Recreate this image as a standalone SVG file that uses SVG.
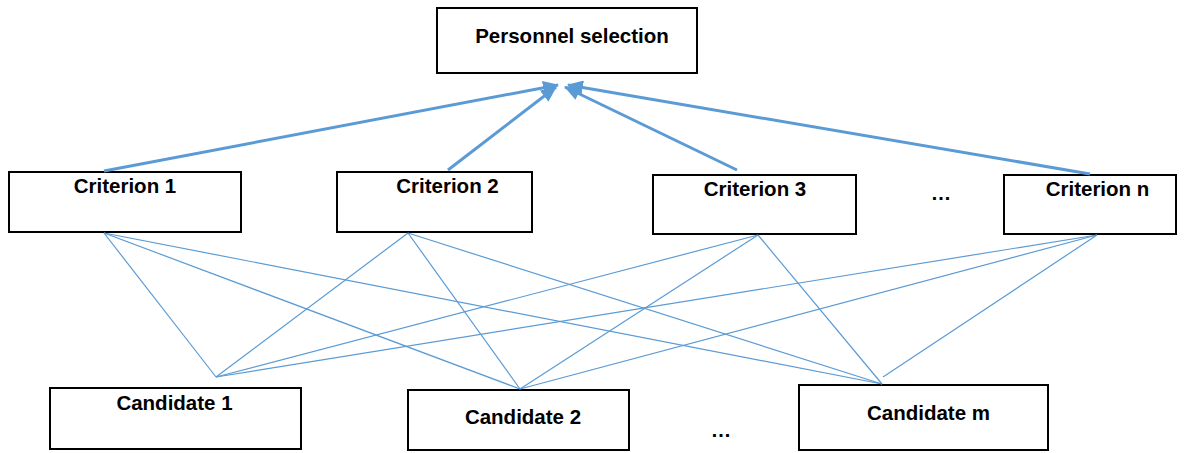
<svg xmlns="http://www.w3.org/2000/svg" width="1186" height="453" viewBox="0 0 1186 453">
  <style>
    .box { fill: #ffffff; stroke: #000000; stroke-width: 2; }
    .label { font-family: "Liberation Sans", Arial, sans-serif; font-weight: bold; font-size: 20.5px; fill: #000000; text-anchor: middle; }
    .arrow { stroke: #5B9BD5; stroke-width: 3; fill: none; marker-end: url(#head); }
    .link { stroke: #5B9BD5; stroke-width: 1.2; fill: none; }
  </style>
  <defs>
    <marker id="head" markerUnits="userSpaceOnUse" markerWidth="16" markerHeight="14" refX="15" refY="7" orient="auto">
      <path d="M0,0 L16,7 L0,14 z" fill="#5B9BD5"/>
    </marker>
  </defs>
  <rect width="1186" height="453" fill="#ffffff"/>

  <!-- goal -->
  <g id="goal">
    <rect class="box" x="437" y="8" width="260" height="65"/>
    <text class="label" x="572" y="43">Personnel selection</text>
  </g>

  <!-- criteria -->
  <g id="criterion1">
    <rect class="box" x="9" y="172" width="232" height="60"/>
    <text class="label" x="125" y="193">Criterion 1</text>
  </g>
  <g id="criterion2">
    <rect class="box" x="337" y="172" width="195" height="60"/>
    <text class="label" x="447.5" y="193">Criterion 2</text>
  </g>
  <g id="criterion3">
    <rect class="box" x="653" y="175" width="203" height="59"/>
    <text class="label" x="755" y="196">Criterion 3</text>
  </g>
  <g id="criterion-dots">
    <text class="label" x="941" y="200">…</text>
  </g>
  <g id="criterionN">
    <rect class="box" x="1004" y="175" width="172" height="59"/>
    <text class="label" x="1097.5" y="196">Criterion n</text>
  </g>

  <!-- alternatives -->
  <g id="candidate1">
    <rect class="box" x="50" y="388" width="251" height="61"/>
    <text class="label" x="174.5" y="410">Candidate 1</text>
  </g>
  <g id="candidate2">
    <rect class="box" x="408" y="390" width="221" height="60"/>
    <text class="label" x="523" y="424">Candidate 2</text>
  </g>
  <g id="candidate-dots">
    <text class="label" x="721" y="437">…</text>
  </g>
  <g id="candidateM">
    <rect class="box" x="799" y="385" width="249" height="65"/>
    <text class="label" x="928.5" y="420">Candidate m</text>
  </g>

  <!-- connectors -->
  <g id="connectors">
    <line class="arrow" x1="104" y1="171" x2="558" y2="85"/>
    <line class="arrow" x1="448" y1="170" x2="556" y2="87"/>
    <line class="arrow" x1="737" y1="170" x2="565" y2="87"/>
    <line class="arrow" x1="1090" y1="174" x2="568" y2="85"/>

    <line class="link" x1="104" y1="233" x2="216" y2="377"/>
    <line class="link" x1="104" y1="233" x2="520" y2="389"/>
    <line class="link" x1="104" y1="233" x2="882" y2="384"/>

    <line class="link" x1="408" y1="233" x2="216" y2="377"/>
    <line class="link" x1="408" y1="233" x2="520" y2="389"/>
    <line class="link" x1="408" y1="233" x2="882" y2="384"/>

    <line class="link" x1="758" y1="235" x2="216" y2="377"/>
    <line class="link" x1="758" y1="235" x2="520" y2="389"/>
    <line class="link" x1="758" y1="235" x2="882" y2="384"/>

    <line class="link" x1="1097" y1="235" x2="216" y2="377"/>
    <line class="link" x1="1097" y1="235" x2="520" y2="389"/>
    <line class="link" x1="1097" y1="235" x2="883" y2="377"/>
  </g>
</svg>
